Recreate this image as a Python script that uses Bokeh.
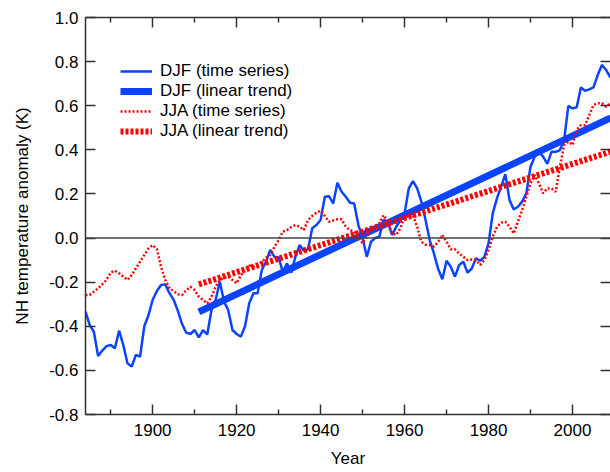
from bokeh.plotting import figure
from bokeh.models import LinearAxis, FixedTicker, Span, Range1d, PrintfTickFormatter
from bokeh.embed import file_html
from bokeh.resources import INLINE

# ---------------- data ----------------
years = list(range(1884, 2010))

djf_series = [
    -0.334, -0.395, -0.425, -0.535, -0.510, -0.490, -0.485, -0.500, -0.420, -0.485,   # 1884-1893
    -0.568, -0.583, -0.530, -0.538, -0.400, -0.350, -0.280, -0.240, -0.213, -0.210,   # 1894-1903
    -0.250, -0.280, -0.330, -0.390, -0.429, -0.435, -0.417, -0.450, -0.417, -0.437,   # 1904-1913
    -0.327, -0.280, -0.198, -0.289, -0.327, -0.417, -0.435, -0.447, -0.400, -0.296,   # 1914-1923
    -0.250, -0.250, -0.145, -0.107, -0.054, -0.085, -0.088, -0.153, -0.115, -0.157,   # 1924-1933
    -0.085, -0.032, -0.058, -0.051, 0.044, 0.059, 0.082, 0.187, 0.190, 0.157,          # 1934-1943
    0.251, 0.210, 0.187, 0.160, 0.157, 0.059, 0.000, -0.085, -0.017, 0.000,            # 1944-1953
    0.006, 0.082, 0.074, 0.014, 0.051, 0.080, 0.112, 0.225, 0.258, 0.225,              # 1954-1963
    0.165, 0.082, -0.010, -0.070, -0.140, -0.187, -0.103, -0.130, -0.175, -0.122,      # 1964-1973
    -0.107, -0.157, -0.138, -0.092, -0.103, -0.085, -0.024, 0.112, 0.180, 0.233,       # 1974-1983
    0.290, 0.172, 0.130, 0.142, 0.165, 0.203, 0.323, 0.369, 0.391, 0.369,              # 1984-1993
    0.336, 0.391, 0.391, 0.399, 0.444, 0.599, 0.588, 0.593, 0.683, 0.668,              # 1994-2003
    0.674, 0.683, 0.739, 0.785, 0.762, 0.729,                                          # 2004-2009
]

jja_series = [
    -0.258, -0.258, -0.243, -0.228, -0.210, -0.190, -0.157, -0.148, -0.160, -0.175,   # 1884-1893
    -0.190, -0.168, -0.137, -0.107, -0.077, -0.047, -0.032, -0.050, -0.130, -0.190,   # 1894-1903
    -0.228, -0.240, -0.255, -0.258, -0.236, -0.221, -0.236, -0.266, -0.280, -0.296,   # 1904-1913
    -0.266, -0.221, -0.190, -0.180, -0.175, -0.190, -0.205, -0.170, -0.145, -0.125,   # 1914-1923
    -0.130, -0.120, -0.107, -0.090, -0.077, -0.040, -0.010, 0.029, 0.036, 0.050,       # 1924-1933
    0.059, 0.051, 0.036, 0.082, 0.100, 0.115, 0.124, 0.100, 0.074, 0.080,              # 1934-1943
    0.085, 0.085, 0.051, 0.036, 0.029, 0.000, -0.024, 0.010, 0.036, 0.050,             # 1944-1953
    0.067, 0.104, 0.074, 0.021, 0.014, 0.044, 0.097, 0.100, 0.104, 0.051,              # 1954-1963
    -0.017, -0.030, -0.032, -0.039, -0.017, 0.014, -0.017, -0.051, -0.051, -0.070,     # 1964-1973
    -0.085, -0.100, -0.097, -0.100, -0.122, -0.100, -0.054, 0.006, 0.050, 0.070,       # 1974-1983
    0.074, 0.051, 0.021, 0.074, 0.127, 0.187, 0.248, 0.286, 0.248, 0.203,              # 1984-1993
    0.225, 0.225, 0.210, 0.323, 0.422, 0.437, 0.422, 0.490, 0.512, 0.512,              # 1994-2003
    0.558, 0.603, 0.611, 0.611, 0.595, 0.611,                                          # 2004-2009
]

trend_years = [1911, 2009.1]
djf_trend = [-0.335, 0.545]
jja_trend = [-0.210, 0.392]

x_major_ticks = [1900, 1920, 1940, 1960, 1980, 2000]
x_minor_ticks = [1890, 1910, 1930, 1950, 1970, 1990]
y_ticks = [-0.8, -0.6, -0.4, -0.2, 0.0, 0.2, 0.4, 0.6, 0.8, 1.0]

BLUE = "#0a44ff"
RED = "#ff0000"
AX = "#333333"
FONT = "Liberation Sans"
FS = "17px"

# ---------------- figure ----------------
p = figure(width=610, height=472,
           x_range=Range1d(1884, 2009.05), y_range=Range1d(-0.8, 1.0),
           output_backend="svg", toolbar_location=None,
           min_border_left=85, min_border_top=17, min_border_right=0, min_border_bottom=58)
p.xgrid.visible = False
p.ygrid.visible = False
p.outline_line_color = None
p.background_fill_color = "white"
p.border_fill_color = "white"

p.add_layout(Span(location=0, dimension="width", line_color="#444444", line_width=1.5))

p.line(years, djf_series, line_color=BLUE, line_width=2.5, legend_label="DJF (time series)")
p.line(trend_years, djf_trend, line_color=BLUE, line_width=7, legend_label="DJF (linear trend)")
p.line(years, jja_series, line_color=RED, line_width=2.5, line_dash="2 2", legend_label="JJA (time series)")
p.line(trend_years, jja_trend, line_color=RED, line_width=6, line_dash="3 2", legend_label="JJA (linear trend)")

xticker = FixedTicker(ticks=x_major_ticks, minor_ticks=x_minor_ticks)
yticker = FixedTicker(ticks=y_ticks)


def style_axis(ax, labels=True):
    ax.axis_line_color = AX
    ax.axis_line_width = 1.5
    ax.major_tick_line_color = AX
    ax.major_tick_line_width = 1.5
    ax.minor_tick_line_color = AX
    ax.minor_tick_line_width = 1.5
    ax.major_tick_in = 10
    ax.major_tick_out = 0
    ax.minor_tick_in = 5
    ax.minor_tick_out = 0
    ax.major_label_text_font = FONT
    if labels:
        ax.major_label_text_color = "black"
        ax.major_label_text_font_size = FS
    else:
        ax.major_label_text_color = None
        ax.major_label_text_font_size = "1px"
        ax.major_label_standoff = 0


xb = p.xaxis[0]
xb.ticker = xticker
style_axis(xb)
xb.major_label_standoff = 9
xb.axis_label = "Year"
xb.axis_label_text_font = FONT
xb.axis_label_text_font_size = FS
xb.axis_label_text_font_style = "normal"
xb.axis_label_text_color = "black"
xb.axis_label_standoff = 10

yl = p.yaxis[0]
yl.ticker = yticker
yl.formatter = PrintfTickFormatter(format="%.1f")
style_axis(yl)
yl.minor_tick_in = 0
yl.major_label_standoff = 7
yl.axis_label = "NH temperature anomaly (K)"
yl.axis_label_text_font = FONT
yl.axis_label_text_font_size = FS
yl.axis_label_text_font_style = "normal"
yl.axis_label_text_color = "black"
yl.axis_label_standoff = 14

xt = LinearAxis(ticker=xticker)
style_axis(xt, labels=False)
p.add_layout(xt, "above")

yr = LinearAxis(ticker=yticker)
style_axis(yr, labels=False)
yr.minor_tick_in = 0
yr.axis_line_color = None
p.add_layout(yr, "right")

lg = p.legend[0]
lg.location = (35, 273)
lg.margin = 0
lg.padding = 0
lg.spacing = 0
lg.border_line_color = None
lg.background_fill_alpha = 0
lg.glyph_width = 32
lg.glyph_height = 20
lg.label_height = 20
lg.label_standoff = 8
lg.label_text_font = FONT
lg.label_text_font_size = FS
lg.label_text_color = "black"

open("out.html", "w").write(file_html(p, INLINE))
